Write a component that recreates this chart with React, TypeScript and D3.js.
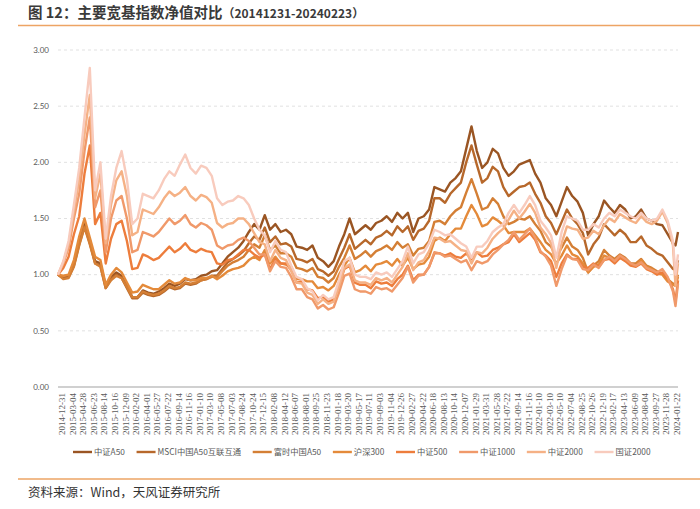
import { useEffect, useRef } from "react";
import * as d3 from "d3";

// trading-day index of each sample (every 19 sessions, plus the last two in Feb 2024)
const days = [...d3.range(0, 2205, 19), 2213, 2222];

const xLabels = [
  "2014-12-31", "2015-03-04", "2015-04-28", "2015-06-23", "2015-08-14", "2015-10-16", "2015-12-09",
  "2016-02-02", "2016-04-01", "2016-05-27", "2016-07-22", "2016-09-14", "2016-11-16", "2017-01-10",
  "2017-03-10", "2017-05-08", "2017-07-03", "2017-08-24", "2017-10-24", "2017-12-15", "2018-02-08",
  "2018-04-12", "2018-06-07", "2018-08-01", "2018-09-25", "2018-11-23", "2019-01-18", "2019-03-20",
  "2019-05-17", "2019-07-11", "2019-09-03", "2019-11-04", "2019-12-26", "2020-02-27", "2020-04-22",
  "2020-06-18", "2020-08-13", "2020-10-14", "2020-12-07", "2021-01-29", "2021-03-31", "2021-05-28",
  "2021-07-22", "2021-09-14", "2021-11-16", "2022-01-10", "2022-03-10", "2022-05-10", "2022-07-04",
  "2022-08-25", "2022-10-26", "2022-12-19", "2023-02-17", "2023-04-13", "2023-06-09", "2023-08-04",
  "2023-09-27", "2023-11-28", "2024-01-22",
];
const labelStep = 38;

const yTicks = [0, 0.5, 1, 1.5, 2, 2.5, 3];

const csiA50 = [
  1.00, 0.97, 0.98, 1.09, 1.29, 1.45, 1.29, 1.12, 1.10, 0.90,
  0.98, 1.02, 0.99, 0.90, 0.80, 0.80, 0.86, 0.84, 0.83, 0.85,
  0.88, 0.92, 0.90, 0.92, 0.96, 0.95, 0.96, 0.99, 1.00, 1.03,
  1.04, 1.10, 1.16, 1.20, 1.24, 1.30, 1.38, 1.45, 1.40, 1.53,
  1.40, 1.45, 1.38, 1.40, 1.36, 1.25, 1.24, 1.22, 1.26, 1.15,
  1.12, 1.07, 1.12, 1.25, 1.36, 1.50, 1.36, 1.40, 1.44, 1.40,
  1.46, 1.48, 1.52, 1.47, 1.55, 1.50, 1.55, 1.38, 1.50, 1.52,
  1.58, 1.78, 1.76, 1.74, 1.82, 1.86, 1.92, 2.12, 2.32, 2.10,
  1.95, 2.00, 2.12, 2.08, 1.95, 1.88, 1.92, 1.98, 2.00, 2.02,
  1.90, 1.82, 1.68, 1.62, 1.52, 1.65, 1.78, 1.70, 1.65, 1.55,
  1.35, 1.45, 1.52, 1.66, 1.60, 1.55, 1.62, 1.58, 1.50, 1.52,
  1.58, 1.50, 1.48, 1.45, 1.44, 1.36, 1.28, 1.26, 1.38,
];

const msciA50 = [
  1.00, 0.97, 0.98, 1.08, 1.27, 1.43, 1.28, 1.10, 1.08, 0.88,
  0.96, 1.00, 0.97, 0.88, 0.79, 0.79, 0.84, 0.82, 0.81, 0.82,
  0.85, 0.89, 0.87, 0.88, 0.92, 0.91, 0.92, 0.95, 0.96, 0.99,
  0.99, 1.05, 1.11, 1.14, 1.17, 1.21, 1.28, 1.34, 1.31, 1.42,
  1.29, 1.34, 1.27, 1.28, 1.25, 1.14, 1.13, 1.11, 1.14, 1.05,
  1.03, 0.99, 1.03, 1.14, 1.24, 1.36, 1.23, 1.27, 1.31, 1.27,
  1.33, 1.35, 1.39, 1.35, 1.43, 1.38, 1.43, 1.31, 1.39, 1.41,
  1.48, 1.68, 1.68, 1.64, 1.72, 1.77, 1.82, 2.00, 2.15, 1.98,
  1.82, 1.86, 1.96, 1.92, 1.78, 1.70, 1.74, 1.78, 1.79, 1.82,
  1.72, 1.64, 1.52, 1.46, 1.36, 1.47, 1.58, 1.50, 1.45, 1.37,
  1.18, 1.27, 1.33, 1.45, 1.40, 1.35, 1.40, 1.36, 1.29, 1.29,
  1.34, 1.26, 1.23, 1.19, 1.17, 1.11, 1.05, 1.05, 1.13,
];

const ftseA50 = [
  1.00, 0.96, 0.97, 1.07, 1.26, 1.42, 1.27, 1.10, 1.07, 0.88,
  0.95, 0.99, 0.97, 0.89, 0.80, 0.80, 0.85, 0.83, 0.82, 0.83,
  0.86, 0.90, 0.88, 0.89, 0.93, 0.92, 0.93, 0.95, 0.96, 0.98,
  0.98, 1.03, 1.08, 1.11, 1.13, 1.16, 1.22, 1.27, 1.24, 1.35,
  1.22, 1.26, 1.19, 1.19, 1.16, 1.06, 1.05, 1.03, 1.06, 0.98,
  0.97, 0.93, 0.97, 1.07, 1.15, 1.26, 1.14, 1.17, 1.21, 1.16,
  1.21, 1.23, 1.26, 1.22, 1.29, 1.24, 1.27, 1.17, 1.23, 1.24,
  1.30, 1.47, 1.48, 1.45, 1.52, 1.57, 1.60, 1.73, 1.85, 1.72,
  1.58, 1.60, 1.68, 1.63, 1.52, 1.45, 1.47, 1.50, 1.49, 1.52,
  1.45, 1.39, 1.29, 1.25, 1.16, 1.24, 1.33, 1.25, 1.22, 1.15,
  1.02, 1.08, 1.12, 1.22, 1.17, 1.14, 1.18, 1.15, 1.10, 1.10,
  1.14, 1.08, 1.06, 1.03, 1.01, 0.96, 0.92, 0.92, 1.00,
];

const hs300 = [
  1.00, 0.99, 1.00, 1.13, 1.34, 1.50, 1.33, 1.16, 1.13, 0.91,
  1.00, 1.06, 1.02, 0.93, 0.84, 0.85, 0.91, 0.89, 0.87, 0.87,
  0.91, 0.95, 0.92, 0.93, 0.97, 0.95, 0.95, 0.97, 0.97, 0.99,
  0.96, 0.99, 1.03, 1.05, 1.06, 1.08, 1.13, 1.16, 1.13, 1.22,
  1.10, 1.16, 1.10, 1.09, 1.07, 0.96, 0.96, 0.94, 0.94, 0.88,
  0.89, 0.86, 0.90, 1.00, 1.08, 1.15, 1.02, 1.04, 1.08, 1.03,
  1.09, 1.10, 1.12, 1.08, 1.14, 1.08, 1.15, 1.05, 1.09, 1.10,
  1.16, 1.30, 1.33, 1.30, 1.36, 1.41, 1.41, 1.52, 1.62, 1.54,
  1.43, 1.45, 1.51, 1.48, 1.44, 1.37, 1.38, 1.38, 1.38, 1.41,
  1.35, 1.29, 1.22, 1.18, 1.10, 1.17, 1.26, 1.18, 1.16, 1.10,
  1.02, 1.07, 1.09, 1.17, 1.15, 1.12, 1.15, 1.13, 1.09, 1.08,
  1.13, 1.07, 1.05, 1.01, 1.00, 0.94, 0.91, 0.90, 0.98,
];

const csi500 = [
  1.00, 1.06, 1.16, 1.36, 1.52, 1.90, 2.15, 1.45, 1.55, 1.10,
  1.32, 1.45, 1.48, 1.30, 1.05, 1.06, 1.18, 1.16, 1.13, 1.15,
  1.20, 1.25, 1.20, 1.23, 1.28, 1.22, 1.20, 1.23, 1.21, 1.20,
  1.10, 1.09, 1.13, 1.14, 1.18, 1.22, 1.22, 1.18, 1.15, 1.18,
  1.05, 1.14, 1.10, 1.10, 1.04, 0.93, 0.94, 0.87, 0.86, 0.79,
  0.80, 0.76, 0.78, 0.90, 1.05, 1.08, 0.93, 0.91, 0.91, 0.88,
  0.94, 0.92, 0.93, 0.90, 0.96, 1.00, 1.08, 0.95, 1.00, 1.00,
  1.07, 1.19, 1.19, 1.17, 1.19, 1.16, 1.15, 1.19, 1.14, 1.20,
  1.16, 1.17, 1.22, 1.24, 1.27, 1.29, 1.36, 1.29, 1.33, 1.37,
  1.31, 1.20, 1.17, 1.12, 0.98, 1.10, 1.18, 1.14, 1.14, 1.07,
  1.06, 1.10, 1.07, 1.13, 1.14, 1.10, 1.15, 1.12, 1.08, 1.07,
  1.10, 1.05, 1.03, 1.00, 1.02, 0.97, 0.87, 0.76, 0.95,
];

const csi1000 = [
  1.00, 1.10, 1.24, 1.50, 1.72, 2.10, 2.40, 1.60, 1.75, 1.20,
  1.50, 1.66, 1.70, 1.50, 1.20, 1.22, 1.38, 1.36, 1.34, 1.38,
  1.44, 1.50, 1.45, 1.48, 1.53, 1.45, 1.42, 1.46, 1.44, 1.40,
  1.26, 1.23, 1.26, 1.27, 1.31, 1.33, 1.30, 1.24, 1.18, 1.18,
  1.03, 1.12, 1.07, 1.06, 0.98, 0.87, 0.87, 0.80, 0.78, 0.70,
  0.73, 0.69, 0.71, 0.84, 0.99, 1.01, 0.87, 0.85, 0.85, 0.83,
  0.89, 0.87, 0.88, 0.85, 0.91, 0.97, 1.07, 0.93, 0.99, 1.00,
  1.07, 1.20, 1.19, 1.16, 1.17, 1.14, 1.11, 1.13, 1.04, 1.12,
  1.10, 1.12, 1.18, 1.22, 1.27, 1.31, 1.38, 1.31, 1.36, 1.41,
  1.33, 1.21, 1.16, 1.08, 0.90, 1.05, 1.17, 1.14, 1.13, 1.05,
  1.04, 1.09, 1.06, 1.13, 1.16, 1.12, 1.17, 1.14, 1.10, 1.08,
  1.11, 1.06, 1.04, 1.02, 1.05, 0.98, 0.85, 0.72, 0.92,
];

const csi2000 = [
  1.00, 1.11, 1.27, 1.56, 1.85, 2.25, 2.60, 1.68, 1.90, 1.28,
  1.62, 1.84, 1.92, 1.70, 1.35, 1.38, 1.58, 1.56, 1.54, 1.60,
  1.68, 1.74, 1.70, 1.73, 1.78, 1.70, 1.66, 1.71, 1.69, 1.64,
  1.46, 1.42, 1.45, 1.46, 1.50, 1.50, 1.45, 1.37, 1.29, 1.27,
  1.12, 1.22, 1.15, 1.13, 1.03, 0.93, 0.92, 0.84, 0.82, 0.74,
  0.78, 0.74, 0.76, 0.90, 1.06, 1.09, 0.95, 0.93, 0.93, 0.91,
  0.97, 0.95, 0.97, 0.93, 1.00, 1.07, 1.19, 1.04, 1.11, 1.13,
  1.21, 1.33, 1.32, 1.29, 1.30, 1.26, 1.22, 1.21, 1.10, 1.20,
  1.19, 1.24, 1.32, 1.37, 1.41, 1.49, 1.57, 1.50, 1.56, 1.63,
  1.55, 1.42, 1.36, 1.28, 1.06, 1.28, 1.43, 1.41, 1.40, 1.32,
  1.33, 1.39, 1.36, 1.44, 1.50, 1.47, 1.54, 1.51, 1.48, 1.46,
  1.52, 1.47, 1.45, 1.48, 1.56, 1.46, 1.26, 0.90, 1.10,
];

const cni2000 = [
  1.00, 1.12, 1.30, 1.62, 1.95, 2.40, 2.84, 1.75, 2.00, 1.32,
  1.70, 1.95, 2.10, 1.85, 1.45, 1.50, 1.72, 1.70, 1.68, 1.75,
  1.85, 1.92, 1.88, 1.98, 2.07, 1.95, 1.90, 1.97, 1.95, 1.88,
  1.68, 1.62, 1.65, 1.66, 1.70, 1.68, 1.62, 1.50, 1.40, 1.35,
  1.20, 1.30, 1.22, 1.20, 1.08, 0.98, 0.96, 0.88, 0.85, 0.77,
  0.82, 0.78, 0.80, 0.95, 1.12, 1.15, 1.00, 0.98, 0.98, 0.96,
  1.02, 1.00, 1.02, 0.98, 1.05, 1.12, 1.25, 1.10, 1.18, 1.20,
  1.28, 1.40, 1.38, 1.35, 1.36, 1.32, 1.28, 1.25, 1.15, 1.25,
  1.25, 1.30, 1.38, 1.42, 1.45, 1.55, 1.62, 1.55, 1.62, 1.70,
  1.62, 1.48, 1.42, 1.35, 1.15, 1.38, 1.52, 1.50, 1.48, 1.40,
  1.40, 1.45, 1.42, 1.50, 1.55, 1.52, 1.58, 1.55, 1.52, 1.50,
  1.55, 1.50, 1.48, 1.50, 1.58, 1.48, 1.30, 1.00, 1.18,
];

const seriesList = [
  { name: "中证A50", values: csiA50, color: "#9a5523" },
  { name: "MSCI中国A50互联互通", values: msciA50, color: "#b7682b" },
  { name: "富时中国A50", values: ftseA50, color: "#d47f35" },
  { name: "沪深300", values: hs300, color: "#e48a3a" },
  { name: "中证500", values: csi500, color: "#ed7d3c" },
  { name: "中证1000", values: csi1000, color: "#f0996a" },
  { name: "中证2000", values: csi2000, color: "#f5b185" },
  { name: "国证2000", values: cni2000, color: "#f8cbbd" },
];

const App = () => {
  const svgRef = useRef<SVGSVGElement>(null);

  useEffect(() => {
    const svg = d3.select(svgRef.current);
    svg.selectAll("*").remove();

    const cjk = "'Noto Sans CJK SC', 'Noto Sans', sans-serif";

    const x = d3.scaleLinear().domain([0, 2222]).range([58, 678]);
    const y = d3.scaleLinear().domain([0, 3]).range([387, 50]);

    svg.append("rect").attr("width", 700).attr("height", 509).attr("fill", "#fff");

    // title + rule
    const title = svg.append("text")
      .attr("x", 28).attr("y", 18)
      .attr("font-family", cjk).attr("font-weight", "bold").attr("fill", "#3a3a3a");
    title.append("tspan").attr("font-size", 14.5).text("图 12：主要宽基指数净值对比");
    title.append("tspan").attr("font-size", 12).text("（20141231-20240223）");

    svg.append("line")
      .attr("x1", 18).attr("x2", 700).attr("y1", 25.5).attr("y2", 25.5)
      .attr("stroke", "#eda464").attr("stroke-width", 1.5);

    // grid + y labels
    svg.append("g").selectAll("line")
      .data(yTicks.filter(t => t > 0))
      .enter().append("line")
      .attr("x1", 58).attr("x2", 678)
      .attr("y1", d => y(d)).attr("y2", d => y(d))
      .attr("stroke", "#d9d9d9").attr("stroke-width", 0.8)
      .attr("stroke-dasharray", "3,3");

    svg.append("g").selectAll("text")
      .data(yTicks)
      .enter().append("text")
      .attr("x", 49).attr("y", d => y(d))
      .attr("dy", "0.35em")
      .attr("text-anchor", "end")
      .attr("font-family", "Lato, sans-serif").attr("font-size", 8)
      .attr("fill", "#595959")
      .text(d => d.toFixed(2));

    // x labels
    svg.append("g").selectAll("text")
      .data(xLabels)
      .enter().append("text")
      .attr("transform", (d, i) => `translate(${x(i * labelStep) + 4},393) rotate(-90)`)
      .attr("text-anchor", "end")
      .attr("dominant-baseline", "central")
      .attr("font-family", "'Liberation Serif', serif").attr("font-size", 9)
      .attr("fill", "#595959")
      .text(d => d);

    // series
    const line = d3.line<number>()
      .x((d, i) => x(days[i]))
      .y(d => y(d))
      .curve(d3.curveLinear);

    svg.append("g").selectAll("path")
      .data(seriesList)
      .enter().append("path")
      .attr("fill", "none")
      .attr("stroke", d => d.color)
      .attr("stroke-width", 2.4)
      .attr("stroke-linejoin", "round")
      .attr("d", d => line(d.values));

    // baseline axis
    svg.append("line")
      .attr("x1", 58).attr("x2", 678).attr("y1", y(0)).attr("y2", y(0))
      .attr("stroke", "#d0d0d0").attr("stroke-width", 2);

    // legend
    const legend = svg.append("g").attr("font-family", cjk).attr("font-size", 8.3).attr("fill", "#595959");
    let lx = 73;
    seriesList.forEach(s => {
      legend.append("line")
        .attr("x1", lx).attr("x2", lx + 19).attr("y1", 452).attr("y2", 452)
        .attr("stroke", s.color).attr("stroke-width", 2.4);
      const t = legend.append("text")
        .attr("x", lx + 21).attr("y", 452).attr("dy", "0.35em")
        .text(s.name);
      const w = (t.node() as SVGTextElement).getComputedTextLength();
      lx += 21 + w + 11.7;
    });

    // source
    svg.append("line")
      .attr("x1", 18).attr("x2", 700).attr("y1", 479).attr("y2", 479)
      .attr("stroke", "#eda464").attr("stroke-width", 1.5);

    svg.append("text")
      .attr("x", 28).attr("y", 497)
      .attr("font-family", cjk).attr("font-size", 12.5).attr("fill", "#333")
      .text("资料来源：Wind，天风证券研究所");
  }, []);

  return (
    <svg
      ref={svgRef}
      width={700}
      height={509}
      style={{ position: "absolute", left: 0, top: 0 }}
    />
  );
};

export default App;
